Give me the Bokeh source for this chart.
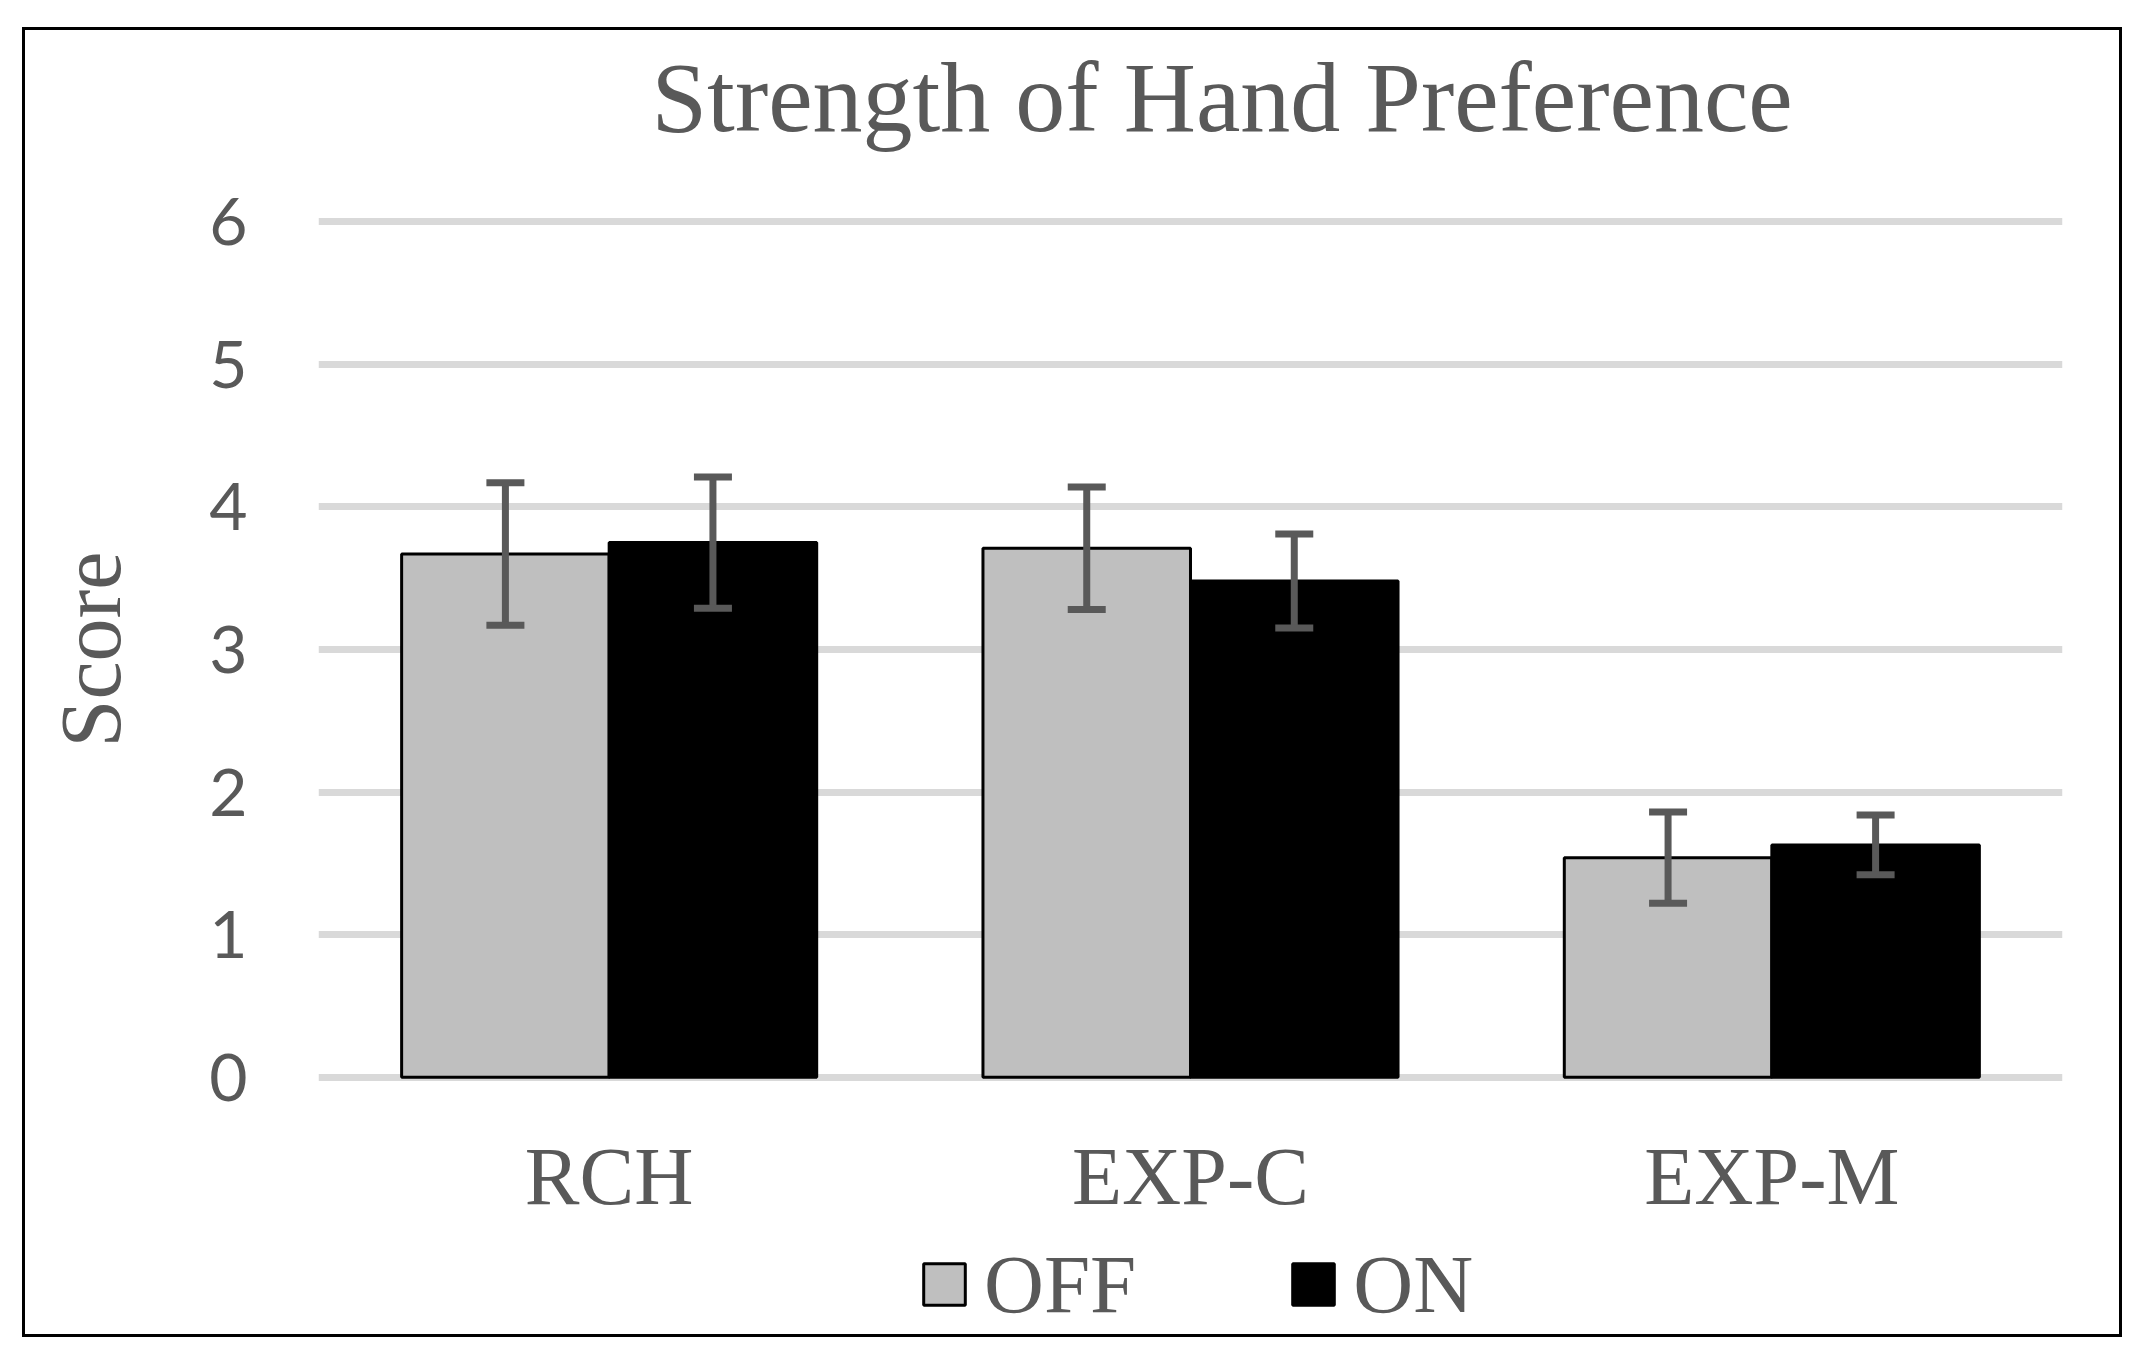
from bokeh.plotting import figure
from bokeh.layouts import column
from bokeh.models import (ColumnDataSource, FactorRange, Range1d, FixedTicker,
                          Whisker, TeeHead, Legend, LegendItem, Title)
from bokeh.transform import dodge
from bokeh.embed import file_html
from bokeh.resources import INLINE

# ---- data ----
categories = ["RCH", "EXP-C", "EXP-M"]
series_names = ["OFF", "ON"]
off_values = [3.67, 3.71, 1.54]
on_values = [3.75, 3.48, 1.63]
off_errors = [0.50, 0.43, 0.32]
on_errors = [0.46, 0.33, 0.21]
y_ticks = [0, 1, 2, 3, 4, 5, 6]
title_text = "Strength of Hand Preference"
y_label = "Score"

src = ColumnDataSource(dict(
    cat=categories,
    off=off_values,
    on=on_values,
    off_up=[v + e for v, e in zip(off_values, off_errors)],
    off_lo=[v - e for v, e in zip(off_values, off_errors)],
    on_up=[v + e for v, e in zip(on_values, on_errors)],
    on_lo=[v - e for v, e in zip(on_values, on_errors)],
))

TEXT = "#595959"
GRAY = "#BFBFBF"
BAR_W = 0.357
OFFS = BAR_W / 2
BORDER = "3px solid black"

x_range = FactorRange(*categories, range_padding=0)

# ---------------- main chart ----------------
p = figure(x_range=x_range,
           y_range=Range1d(-0.05, 6.05),
           width=2094, height=1200,
           output_backend="svg", toolbar_location=None,
           min_border_left=293, min_border_right=63,
           min_border_top=184, min_border_bottom=149,
           title=None)
p.styles = {"border-top": BORDER, "border-left": BORDER, "border-right": BORDER,
            "box-sizing": "content-box"}
p.outline_line_color = None
p.background_fill_color = "white"
p.border_fill_color = "white"

# title: a thin spacer next to the frame, then the real title above it
spacer = Title(text=" ", text_font_size="1px", standoff=54)
p.add_layout(spacer, "above")
main_title = Title(text=title_text, align="left", offset=333, standoff=10,
                   text_font="Liberation Serif", text_font_size="100px",
                   text_font_style="normal", text_color=TEXT)
p.add_layout(main_title, "above")

# bars
r_off = p.vbar(x=dodge("cat", -OFFS, range=x_range), top="off", bottom=0,
               width=BAR_W, source=src, fill_color=GRAY,
               line_color="black", line_width=3)
r_on = p.vbar(x=dodge("cat", OFFS, range=x_range), top="on", bottom=0,
              width=BAR_W, source=src, fill_color="black",
              line_color="black", line_width=3)

# error bars
for base_off, up, lo in [(-OFFS, "off_up", "off_lo"), (OFFS, "on_up", "on_lo")]:
    w = Whisker(source=src, base=dodge("cat", base_off, range=x_range),
                upper=up, lower=lo, line_color=TEXT, line_width=7,
                upper_head=TeeHead(size=38, line_color=TEXT, line_width=7),
                lower_head=TeeHead(size=38, line_color=TEXT, line_width=7),
                level="annotation")
    p.add_layout(w)

# grid
p.xgrid.visible = False
p.ygrid.ticker = FixedTicker(ticks=y_ticks)
p.ygrid.grid_line_color = "#D9D9D9"
p.ygrid.grid_line_width = 7

# y axis
ya = p.yaxis[0]
ya.ticker = FixedTicker(ticks=y_ticks)
ya.axis_line_color = None
ya.major_tick_line_color = None
ya.minor_tick_line_color = None
ya.major_tick_out = 0
ya.major_tick_in = 0
ya.major_label_standoff = 71
ya.major_label_text_font = "Lato"
ya.major_label_text_font_size = "66px"
ya.major_label_text_color = TEXT
ya.axis_label = y_label
ya.axis_label_text_font = "Liberation Serif"
ya.axis_label_text_font_size = "86px"
ya.axis_label_text_font_style = "normal"
ya.axis_label_text_color = TEXT
ya.axis_label_standoff = 67

# x axis
xa = p.xaxis[0]
xa.axis_line_color = None
xa.major_tick_line_color = None
xa.minor_tick_line_color = None
xa.major_tick_out = 0
xa.major_tick_in = 0
xa.major_label_standoff = 46
xa.major_label_text_font = "Liberation Serif"
xa.major_label_text_font_size = "82px"
xa.major_label_text_color = TEXT

# ---------------- legend strip ----------------
# same bars, same data, but the strip's y window lies above every value,
# so only the legend entries are visible here
pl = figure(width=2094, height=104, x_range=x_range, y_range=Range1d(100, 101),
            x_axis_type=None, y_axis_type=None,
            output_backend="svg", toolbar_location=None, min_border=0)
pl.styles = {"border-bottom": BORDER, "border-left": BORDER, "border-right": BORDER,
             "box-sizing": "content-box"}
pl.outline_line_color = None
pl.background_fill_color = "white"
pl.border_fill_color = "white"
pl.grid.visible = False

k_off = pl.vbar(x=dodge("cat", -OFFS, range=x_range), top="off", bottom=0,
                width=BAR_W, source=src, fill_color=GRAY,
                line_color="black", line_width=3)
k_on = pl.vbar(x=dodge("cat", OFFS, range=x_range), top="on", bottom=0,
               width=BAR_W, source=src, fill_color="black",
               line_color="black", line_width=3)

legend = Legend(items=[LegendItem(label=series_names[0], renderers=[k_off]),
                       LegendItem(label=series_names[1], renderers=[k_on])],
                orientation="horizontal", location="center_left", margin=600,
                glyph_width=52, glyph_height=52, spacing=151, label_standoff=14,
                label_text_font="Liberation Serif", label_text_font_size="83px",
                label_text_color=TEXT, border_line_color=None,
                background_fill_alpha=0, padding=0)
pl.add_layout(legend, "center")

layout = column(p, pl, spacing=0)
layout.styles = {"position": "relative", "left": "22px", "top": "27px"}

open("out.html", "w").write(file_html(layout, INLINE))
